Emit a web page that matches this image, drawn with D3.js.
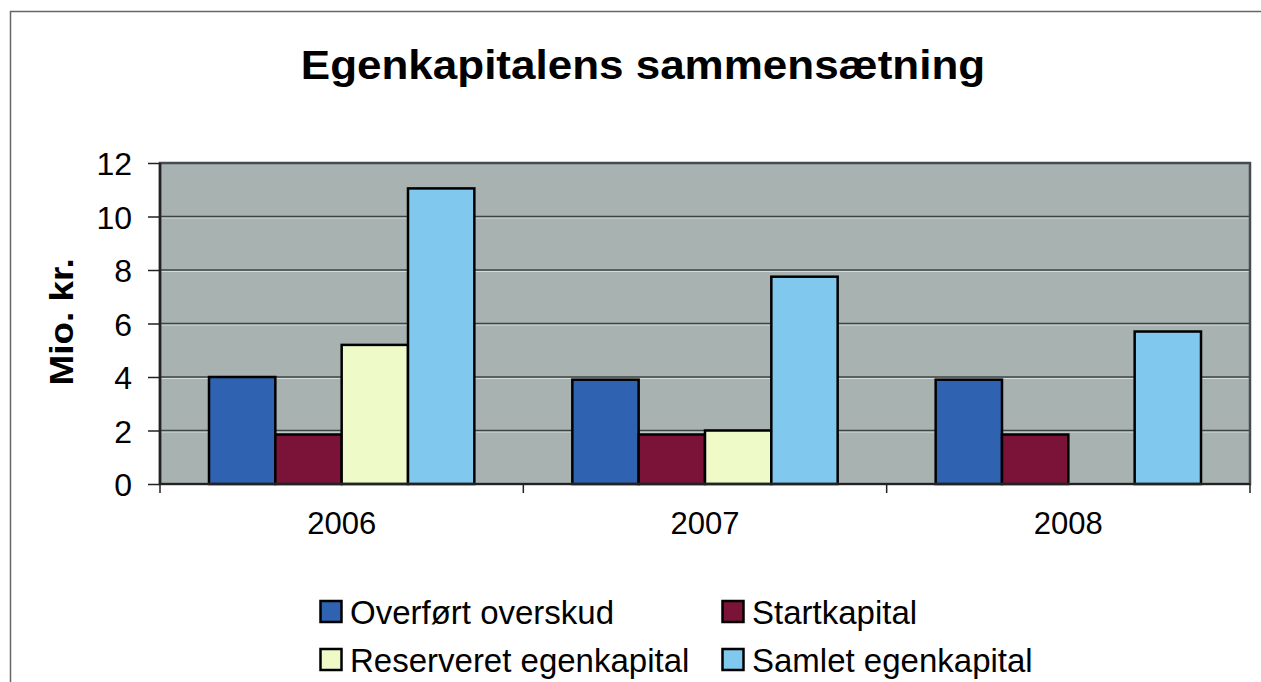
<!DOCTYPE html>
<html lang="da">
<head>
<meta charset="utf-8">
<title>Egenkapitalens sammensætning</title>
<script src="https://cdn.jsdelivr.net/npm/d3@7"></script>
<style>
  body { margin: 0; background: #fff; }
  svg { display: block; font-family: Arial, "Liberation Sans", sans-serif; }
</style>
</head>
<body>
<div class="chart"></div>
<script>
// data (Mio. kr.)
var years = ["2006", "2007", "2008"];
var seriesNames = ["Overført overskud", "Startkapital", "Reserveret egenkapital", "Samlet egenkapital"];
var overfort = [4.0, 3.9, 3.9];
var startkapital = [1.85, 1.85, 1.85];
var reserveret = [5.2, 2.0, 0];
var samlet = [11.05, 7.75, 5.7];
var yTicks = [0, 2, 4, 6, 8, 10, 12];
var colors = ["#2f62b0", "#7b1237", "#eefbc8", "#80c8ee"];

var seriesValues = [overfort, startkapital, reserveret, samlet];

var W = 1261, H = 682;
var margin = {top: 163, right: 11, bottom: 198, left: 160};
var width = W - margin.left - margin.right,
    height = H - margin.top - margin.bottom;

var svg = d3.select(".chart").append("svg")
    .attr("width", W)
    .attr("height", H);

// outer frame
svg.append("path")
    .attr("d", "M10.5," + H + "V11.5H" + W)
    .attr("fill", "none")
    .attr("stroke", "#666")
    .attr("stroke-width", 1.5);

// title is a bit wider in the scan than plain Arial, so stretch it sideways
svg.append("text")
    .attr("transform", "translate(643,79) scale(1.1,1)")
    .attr("text-anchor", "middle")
    .attr("font-size", 40)
    .attr("font-weight", "bold")
    .text("Egenkapitalens sammensætning");

var g = svg.append("g")
    .attr("transform", "translate(" + margin.left + "," + margin.top + ")");

var x0 = d3.scaleBand().domain(years).range([0, width]).paddingInner(0).paddingOuter(0);
var x1 = d3.scaleBand().domain(d3.range(seriesNames.length)).range([49, x0.bandwidth() - 49]);
var y = d3.scaleLinear().domain([0, 12]).range([height, 0]);

g.append("rect")
    .attr("width", width)
    .attr("height", height)
    .attr("fill", "#a7b2b1");

// gridlines, dark with a pale line under each
var grid = g.append("g").selectAll("g")
    .data(yTicks.filter(function(d) { return d > 0 && d < 12; }))
    .enter().append("g");
grid.append("line")
    .attr("x1", 0).attr("x2", width)
    .attr("y1", function(d) { return y(d) + 1.5; })
    .attr("y2", function(d) { return y(d) + 1.5; })
    .attr("stroke", "#d6dcdc")
    .attr("stroke-width", 1);
grid.append("line")
    .attr("x1", 0).attr("x2", width)
    .attr("y1", function(d) { return y(d); })
    .attr("y2", function(d) { return y(d); })
    .attr("stroke", "#3e4444")
    .attr("stroke-width", 1.6);

// bars
var groups = g.append("g").selectAll("g")
    .data(years)
    .enter().append("g")
    .attr("transform", function(d) { return "translate(" + x0(d) + ",0)"; });

groups.selectAll("rect")
    .data(function(d, i) { return seriesValues.map(function(s, k) { return {k: k, v: s[i]}; }); })
    .enter().append("rect")
    .filter(function(d) { return d.v > 0; })
    .attr("x", function(d) { return x1(d.k); })
    .attr("y", function(d) { return y(d.v); })
    .attr("width", x1.bandwidth())
    .attr("height", function(d) { return height - y(d.v); })
    .attr("fill", function(d) { return colors[d.k]; })
    .attr("stroke", "#000")
    .attr("stroke-width", 2.5);

// plot area border
g.append("rect")
    .attr("width", width)
    .attr("height", height)
    .attr("fill", "none")
    .attr("stroke", "#454b50")
    .attr("stroke-width", 2.5);

// axes
var yAxis = g.append("g")
    .call(d3.axisLeft(y).tickValues(yTicks).tickSize(12).tickPadding(16));
yAxis.selectAll("text").attr("font-size", 32).attr("fill", "#000").attr("dy", "0.36em");
yAxis.selectAll("line, path").attr("stroke", "#222").attr("stroke-width", 1.5);
yAxis.select(".domain").attr("d", "M0,0V" + height).attr("stroke-width", 2.5);

var xAxis = g.append("g")
    .attr("transform", "translate(0," + height + ")")
    .call(d3.axisBottom(x0).tickSize(0).tickPadding(36));
xAxis.selectAll("text").attr("font-size", 31).attr("fill", "#000").attr("dy", "0.45em");
xAxis.select(".domain").attr("d", "M0,0H" + width).attr("stroke", "#222").attr("stroke-width", 2);
xAxis.append("g").selectAll("line")
    .data(d3.range(years.length + 1))
    .enter().append("line")
    .attr("x1", function(d) { return d * x0.bandwidth(); })
    .attr("x2", function(d) { return d * x0.bandwidth(); })
    .attr("y1", 0).attr("y2", 9)
    .attr("stroke", "#222").attr("stroke-width", 1.5);

svg.append("text")
    .attr("transform", "translate(73,322) rotate(-90) scale(1.12,1)")
    .attr("text-anchor", "middle")
    .attr("font-size", 33)
    .attr("font-weight", "bold")
    .text("Mio. kr.");

// legend
var legendPos = [[319, 612], [721, 612], [319, 660], [721, 660]];
var legend = svg.append("g").selectAll("g")
    .data(seriesNames)
    .enter().append("g")
    .attr("transform", function(d, i) { return "translate(" + legendPos[i][0] + "," + legendPos[i][1] + ")"; });
legend.append("rect")
    .attr("x", 1.5).attr("y", -11)
    .attr("width", 21).attr("height", 21)
    .attr("fill", function(d, i) { return colors[i]; })
    .attr("stroke", "#000")
    .attr("stroke-width", 2.5);
legend.append("text")
    .attr("x", 31)
    .attr("dy", "0.36em")
    .attr("font-size", 33)
    .text(function(d) { return d; });
</script>
</body>
</html>
